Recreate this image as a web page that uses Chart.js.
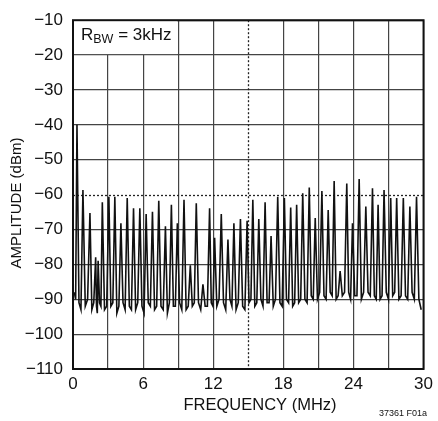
<!DOCTYPE html>
<html>
<head>
<meta charset="utf-8">
<script src="https://cdn.jsdelivr.net/npm/chart.js@4.4.0/dist/chart.umd.min.js"></script>
<style>
  html, body { margin: 0; padding: 0; background: #fff; }
  #wrap { width: 438px; height: 421px; }
</style>
</head>
<body>
<div id="wrap"><canvas id="chart" width="438" height="421"></canvas></div>
<script>
// spur frequencies (MHz) and peak levels (dBm)
const spikeMHz = [
  0.34, 0.85, 1.45, 1.94, 2.15, 2.51, 3.07, 3.58, 4.10, 4.64,
  5.18, 5.72, 6.26, 6.80, 7.34, 7.91, 8.42, 8.93, 9.50, 10.04,
  10.55, 11.12, 11.69, 12.12, 12.69, 13.26, 13.77, 14.33, 14.90, 15.39,
  15.90, 16.44, 16.95, 17.52, 18.09, 18.63, 19.14, 19.66, 20.22, 20.73,
  21.30, 21.84, 22.35, 22.86, 23.43, 23.92, 24.49, 25.06, 25.63, 26.11,
  26.62, 27.19, 27.70, 28.27, 28.83, 29.40
];
const spikeDbm = [
  -40, -58.7, -65.3, -78, -79, -62.2, -60.6, -60.6, -68.2, -61,
  -63.9, -63.9, -65.6, -64.9, -61.8, -69.1, -62.9, -68.2, -61.5, -80.3,
  -62.5, -85.7, -63.9, -72.4, -65.6, -72.9, -68.2, -67, -67.5, -61.5,
  -67, -62.2, -71.9, -60.6, -61, -63.7, -62.9, -59.6, -58, -66.7,
  -59, -64.4, -56.1, -81.9, -56.8, -68.2, -55.5, -63.4, -58.2, -62.9,
  -58.7, -61, -61, -61, -63.4, -60.6
];
// noise floor, two readings in each gap between spurs (first gap starts at 0 MHz, last ends at 30 MHz)
const floorDbm = [
  [-88, -90],
  [-91, -93], [-92, -90], [-93, -91], [-92, -94], [-91, -92], [-93, -92], [-92, -91], [-94, -92],
  [-91, -93], [-92, -93], [-93, -91], [-92, -94], [-91, -92], [-93, -92], [-92, -93], [-94, -91],
  [-92, -92], [-91, -93], [-93, -92], [-92, -91], [-91, -93], [-92, -92],
  [-91, -92], [-92, -90], [-91, -93], [-90, -92], [-93, -91], [-92, -93], [-91, -90], [-92, -91],
  [-90, -92], [-91, -91], [-92, -90], [-91, -92], [-90, -91], [-92, -91], [-91, -90], [-90, -91],
  [-89, -90], [-90, -88], [-89, -90], [-88, -89], [-90, -89], [-89, -88], [-88, -90], [-89, -89],
  [-90, -88], [-88, -89], [-89, -90], [-90, -89], [-88, -90], [-89, -88], [-90, -89], [-89, -90],
  [-88, -90],
  [-90, -93]
];
const xTickLabels = [0, 6, 12, 18, 24, 30];
const yTickLabels = [-110, -100, -90, -80, -70, -60, -50, -40, -30, -20, -10];

const FONT = '"Liberation Sans", Arial, sans-serif';

// spectrum trace: floor readings laid between the spurs
const trace = [];
for (let i = 0; i <= spikeMHz.length; i++) {
  const left = i === 0 ? 0 : spikeMHz[i - 1];
  const right = i === spikeMHz.length ? 30 : spikeMHz[i];
  trace.push({ x: left + (right - left) / 3, y: floorDbm[i][0] });
  trace.push({ x: left + 2 * (right - left) / 3, y: floorDbm[i][1] });
  if (i < spikeMHz.length) trace.push({ x: spikeMHz[i], y: spikeDbm[i] });
}

function strokeLine(ctx, x1, y1, x2, y2) {
  ctx.beginPath();
  ctx.moveTo(x1, y1);
  ctx.lineTo(x2, y2);
  ctx.stroke();
}

const decor = {
  id: 'decor',
  beforeDatasetsDraw(chart) {
    const { ctx, chartArea: a, scales: { x, y } } = chart;
    ctx.save();
    ctx.strokeStyle = '#222';
    ctx.lineWidth = 1.3;
    ctx.setLineDash([2, 2]);
    const xm = Math.round(x.getPixelForValue(15)) + 0.5;
    strokeLine(ctx, xm, a.top, xm, a.bottom);
    const y60 = Math.round(y.getPixelForValue(-60)) + 0.5;
    strokeLine(ctx, a.left, y60, a.right, y60);
    ctx.setLineDash([]);
    // white box behind the RBW note
    ctx.fillStyle = '#fff';
    ctx.fillRect(a.left, a.top, x.getPixelForValue(9) - a.left - 1, y.getPixelForValue(-20) - a.top - 1);
    ctx.restore();
  },
  afterDraw(chart) {
    const { ctx, chartArea: a } = chart;
    ctx.save();
    ctx.strokeStyle = '#111';
    ctx.lineWidth = 2;
    ctx.strokeRect(a.left, a.top, a.right - a.left, a.bottom - a.top);

    ctx.fillStyle = '#111';
    ctx.textBaseline = 'alphabetic';
    ctx.textAlign = 'left';
    ctx.font = '17px ' + FONT;
    let tx = a.left + 8;
    ctx.fillText('R', tx, 39.5);
    tx += ctx.measureText('R').width;
    ctx.font = '12.5px ' + FONT;
    ctx.fillText('BW', tx, 42.5);
    tx += ctx.measureText('BW').width;
    ctx.font = '17px ' + FONT;
    ctx.fillText(' = 3kHz', tx, 39.5);

    ctx.textAlign = 'center';
    ctx.textBaseline = 'middle';
    ctx.font = '16.5px ' + FONT;
    ctx.fillText('FREQUENCY (MHz)', 260, 405);

    ctx.textAlign = 'right';
    ctx.textBaseline = 'alphabetic';
    ctx.font = '9px ' + FONT;
    ctx.fillText('37361 F01a', 427, 416);

    ctx.translate(17, 203);
    ctx.rotate(-Math.PI / 2);
    ctx.textAlign = 'center';
    ctx.textBaseline = 'middle';
    ctx.font = '15px ' + FONT;
    ctx.fillText('AMPLITUDE (dBm)', 0, 0);
    ctx.restore();
  }
};

new Chart(document.getElementById('chart'), {
  type: 'line',
  data: {
    datasets: [{
      data: trace,
      borderColor: '#111',
      borderWidth: 1.6,
      pointRadius: 0,
      tension: 0,
      fill: false
    }]
  },
  options: {
    responsive: false,
    animation: false,
    layout: { padding: { top: 17, right: 13, left: 0, bottom: 0 } },
    plugins: { legend: { display: false }, tooltip: { enabled: false } },
    scales: {
      x: {
        type: 'linear',
        min: 0,
        max: 30,
        afterFit(scale) { scale.height = 52; },
        border: { display: false },
        grid: {
          drawTicks: false,
          lineWidth: 1.2,
          color: c => (c.tick && c.tick.value === 15) ? 'rgba(0,0,0,0)' : '#444'
        },
        ticks: {
          stepSize: 3,
          padding: 5,
          color: '#111',
          font: { family: FONT, size: 17 },
          callback: v => xTickLabels.includes(v) ? String(v) : ''
        }
      },
      y: {
        min: -110,
        max: -10,
        afterFit(scale) { scale.width = 73; },
        border: { display: false },
        grid: {
          drawTicks: false,
          lineWidth: 1.2,
          color: c => (c.tick && c.tick.value === -60) ? 'rgba(0,0,0,0)' : '#444'
        },
        ticks: {
          stepSize: 10,
          padding: 10,
          color: '#111',
          font: { family: FONT, size: 17 },
          callback: v => yTickLabels.includes(v) ? String(v).replace('-', '\u2212') : ''
        }
      }
    }
  },
  plugins: [decor]
});
</script>
</body>
</html>
